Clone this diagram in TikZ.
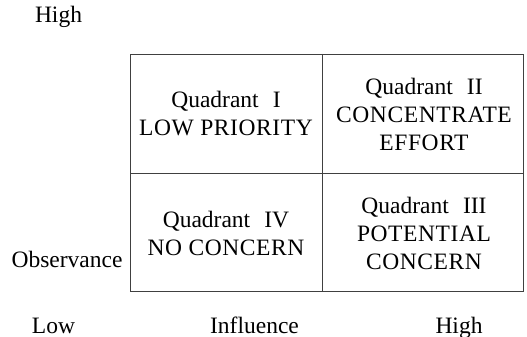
\documentclass[tikz,border=0pt]{standalone}
\usepackage{fontspec}
\setmainfont{Liberation Serif}
\newcommand\capsls{\addfontfeature{LetterSpace=2.5}}
\newcommand\qgap{\hspace{0.6em}}
\tikzset{
  cell/.style={align=center, inner sep=0pt, font=\fontsize{23.5}{28}\selectfont},
  lbl/.style={inner sep=0pt, anchor=base, font=\fontsize{23.5}{28}\selectfont},
  gridline/.style={draw=black!75, line width=0.9pt}
}
\begin{document}
\begin{tikzpicture}[x=1pt,y=-1pt]
\useasboundingbox (0,0) rectangle (527,337);
\coordinate (nw) at (130,54);
\coordinate (se) at (523,291);
\coordinate (tm) at (322,54);
\coordinate (bm) at (322,291);
\coordinate (lm) at (130,173);
\coordinate (rm) at (523,173);
\draw[gridline] (nw) rectangle (se);
\draw[gridline] (tm) -- (bm);
\draw[gridline] (lm) -- (rm);
\node[cell] (q1) at (226,114) {Quadrant\qgap I\\{\capsls LOW PRIORITY}};
\node[cell] (q2) at (424,114) {Quadrant\qgap II\\{\capsls CONCENTRATE}\\{\capsls EFFORT}};
\node[cell] (q4) at (226,233) {Quadrant\qgap IV\\{\capsls NO CONCERN}};
\node[cell] (q3) at (424,233) {Quadrant\qgap III\\{\capsls POTENTIAL}\\{\capsls CONCERN}};
\node[lbl] (yhigh) at (58.5,23) {High};
\node[lbl] (yname) at (67,267) {Observance};
\node[lbl] (xlow) at (53.5,333) {Low};
\node[lbl] (xname) at (254.5,333) {Influence};
\node[lbl] (xhigh) at (459,333) {High};
\end{tikzpicture}
\end{document}
